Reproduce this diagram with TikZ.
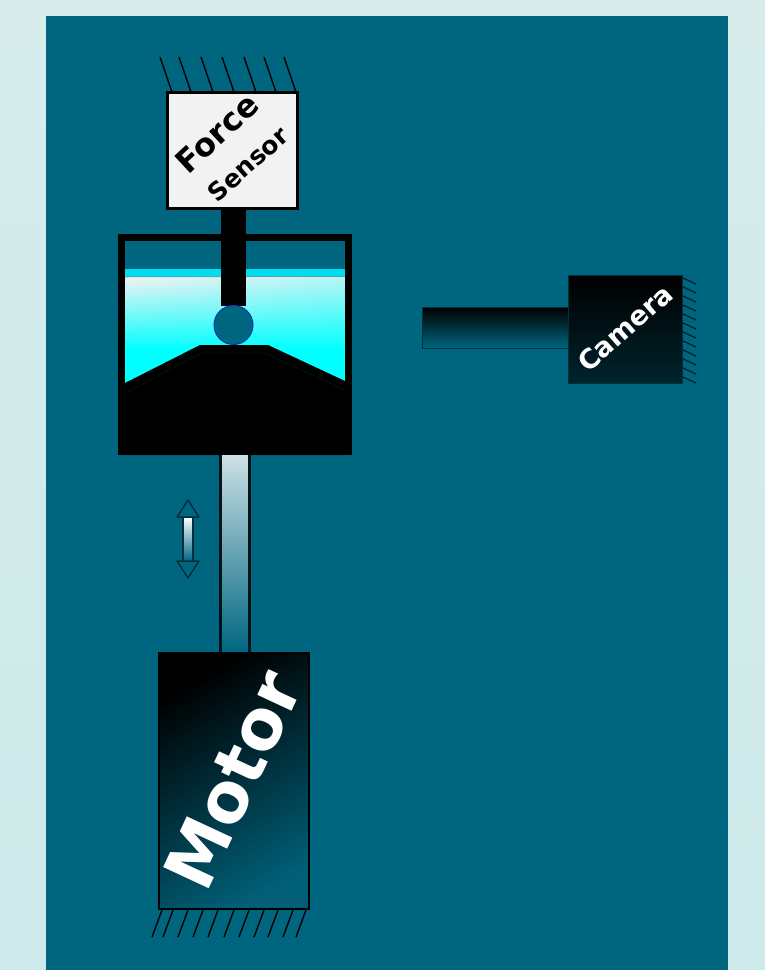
\documentclass[tikz,border=0pt]{standalone}
\usepackage{fontspec}
\setmainfont{DejaVu Sans}
\usetikzlibrary{calc,shadings}
\definecolor{panel}{HTML}{006680}
\definecolor{edge}{HTML}{00303D}
\definecolor{paper}{HTML}{F2F2F2}
\definecolor{water}{HTML}{00DCF0}
\definecolor{aqua}{HTML}{00FFFF}
\definecolor{bgtop}{HTML}{D8ECEC}
\definecolor{bgbot}{HTML}{CDE9E9}

\begin{document}
\begin{tikzpicture}[x=1pt,y=-1pt,
	wall/.style={draw=black,line width=1.4pt},
	tag/.style={inner sep=0pt}]
	\useasboundingbox (0,0) rectangle (765,970);
	\shade[top color=bgtop,bottom color=bgbot] (0,0) rectangle (765,970);
	\fill[panel] (46,16) rectangle (728,970);

	%force sensor
	\foreach \x in {160,179,201,222,244,264,284}
		\draw[wall] (\x,57)--(\x+12,92);
	\draw[fill=paper,line width=3pt] (167.5,92.5) rectangle (297.5,208.5);
	\node[tag,rotate=43,font=\bfseries\fontsize{32}{32}\selectfont] (force) at (217,133) {Force};
	\node[tag,rotate=42,font=\bfseries\fontsize{25}{25}\selectfont] (sensor) at (248,164) {Sensor};

	%container
	\fill[water] (125,268.5) rectangle (345,277);
	\shade[upper left=paper,upper right=paper!75!aqua,lower left=aqua,lower right=aqua] (125,277) rectangle (345,350);
	\fill[aqua] (125,350) rectangle (345,390);
	\draw[gray,line width=0.5pt] (125,277)--(345,276.5);
	\fill[black] (125,383)--(200,345)--(268,345)--(345,381)--(345,455)--(125,455)--cycle;
	\draw[edge!40!black,line width=0.8pt] (125,393)--(202,353)--(265,353)--(345,390);
	\draw[line width=7pt,miter limit=10] (121.5,455)--(121.5,237.5)--(348,237.5)--(348,455);
	\fill[black] (118,447)rectangle(351,455);
	\fill[black] (221,210) rectangle (246,306);
	\draw[fill=panel,draw=blue!40!panel,line width=1pt] (233.5,325) circle (19.5);

	%rod
	\shade[top color=white!80!panel,bottom color=panel] (220.5,455) rectangle (249.5,652);
	\draw[line width=2.5pt,edge!40!black] (220.5,455)--(220.5,652) (249.5,455)--(249.5,652);

	%motion arrow
	\shade[top color=white,bottom color=panel] (183,517) rectangle (193,561);
	\draw[edge,line width=1.5pt] (183,517)--(183,561) (193,517)--(193,561);
	\draw[edge,line width=1.5pt,line join=round] (188,500)--(177,517)--(199,517)--cycle;
	\draw[edge,line width=1.5pt,line join=round] (177,561)--(199,561)--(188,578)--cycle;

	%motor
	\foreach \x in {162,173,188,203,218,234,249,264,278,293,306}
		\draw[wall] (\x,910)--(\x-10,937);
	\shade[top color=black,bottom color=panel!92!black,shading angle=30] (159,653) rectangle (309,909);
	\draw[line width=2pt] (159,653) rectangle (309,909);
	\node[tag,rotate=65,white,font=\bfseries\fontsize{69}{69}\selectfont] (motor) at (233,780) {Motor};

	%camera
	\foreach \y in {278,287,296,305,314,323,332,341,350,359,368,377}
		\draw[edge!60!black,line width=1.2pt] (683,\y)--(696,\y+6);
	\shade[top color=black,bottom color=panel] (422.5,307.5) rectangle (568,348);
	\draw[edge,line width=1pt] (422.5,307.5) rectangle (568,348);
	\shade[top color=black,bottom color=panel!35!black] (568.5,275.5) rectangle (682.5,383.5);
	\draw[edge,line width=1pt] (568.5,275.5) rectangle (682.5,383.5);
	\node[tag,rotate=41.5,white,font=\bfseries\fontsize{27}{27}\selectfont] (camera) at (625,328) {Camera};
\end{tikzpicture}
\end{document}
